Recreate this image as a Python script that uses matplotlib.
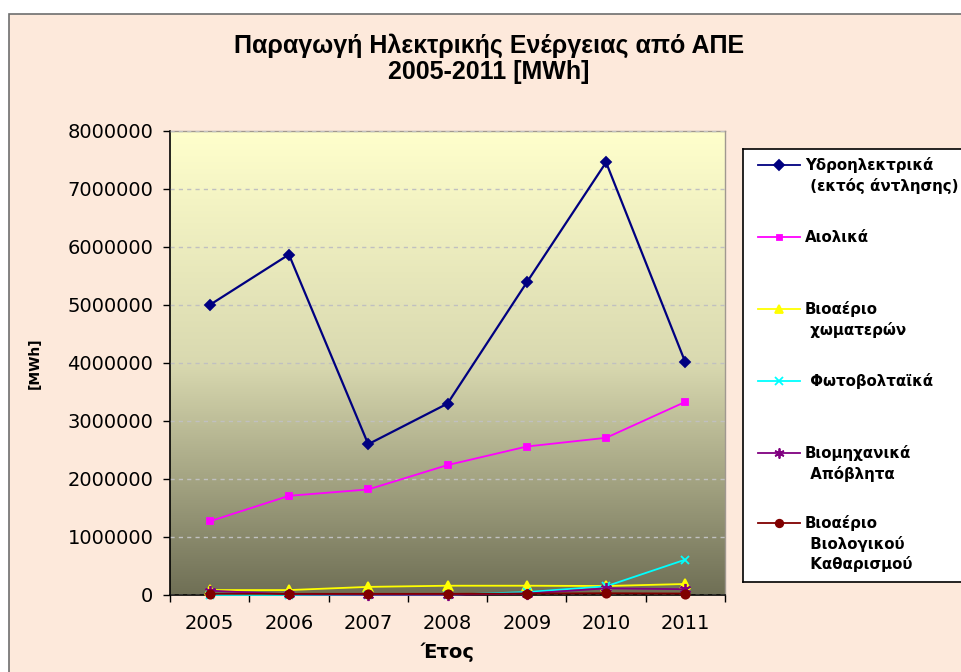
import numpy as np
import matplotlib
matplotlib.use("Agg")
import matplotlib.pyplot as plt
from matplotlib.patches import Rectangle
from matplotlib.colors import LinearSegmentedColormap
from matplotlib.ticker import FuncFormatter

years = ["2005", "2006", "2007", "2008", "2009", "2010", "2011"]

hydro = [5000000, 5870000, 2600000, 3300000, 5390000, 7460000, 4010000]
wind = [1270000, 1710000, 1820000, 2240000, 2560000, 2710000, 3330000]
landfill_gas = [85000, 85000, 140000, 160000, 160000, 155000, 190000]
pv = [1000, 1500, 2000, 5000, 50000, 150000, 610000]
industrial = [75000, 12000, 5000, 5000, 25000, 115000, 100000]
sewage_gas = [20000, 20000, 20000, 20000, 25000, 30000, 25000]

labels = [
    ["Υδροηλεκτρικά", " (εκτός άντλησης)"],
    ["Αιολικά"],
    ["Βιοαέριο", " χωματερών"],
    [" Φωτοβολταϊκά"],
    ["Βιομηχανικά", " Απόβλητα"],
    ["Βιοαέριο", " Βιολογικού", " Καθαρισμού"],
]

# colour, marker, marker size
styles = [
    ("#000080", "D", 5.5),
    ("#FF00FF", "s", 4),
    ("#FFFF00", "^", 7),
    ("#00FFFF", "x", 6),
    ("#800080", (6, 2, 0), 8),
    ("#800000", "o", 6),
]
series = [hydro, wind, landfill_gas, pv, industrial, sewage_gas]

W, H = 961, 672
fig = plt.figure(figsize=(W / 100, H / 100), dpi=100)
fig.patch.set_facecolor("white")

# outer chart area (cropped on right / bottom like the original)
fig.add_artist(Rectangle((9 / W, -0.1), 1.2, (H - 14) / H + 0.1,
                         transform=fig.transFigure, facecolor="#FDE9DB",
                         edgecolor="#6E6E6E", lw=1.2, zorder=-10))

ax = fig.add_axes([170 / W, (H - 595) / H, 555 / W, 464 / H])
ax.set_facecolor("none")

grad = LinearSegmentedColormap.from_list("g", ["#FFFFCC", "#D9D9B0", "#6F6F55"])
ax.imshow(np.linspace(0, 1, 256).reshape(-1, 1), cmap=grad, aspect="auto",
          extent=[0, 1, 0, 1], transform=ax.transAxes, zorder=0)

x = np.arange(len(years))
ax.set_xlim(-0.5, len(years) - 0.5)
ax.set_ylim(0, 8000000)
ax.set_yticks(np.arange(0, 8000001, 1000000))
ax.yaxis.set_major_formatter(FuncFormatter(lambda v, p: f"{int(v)}"))
ax.yaxis.grid(True, ls=(0, (3, 3)), color="#C0C0C0", lw=1, zorder=1)
ax.set_axisbelow(False)

for vals, (c, m, ms) in zip(series, styles):
    lw = 1.6 if c == "#000080" else 1.3
    ax.plot(x, vals, color=c, marker=m, ms=ms, lw=lw, mew=1.3,
            mec=c, mfc=c, zorder=3, clip_on=False)

ax.set_xticks(x)
ax.set_xticklabels(years)
ax.set_xticks(np.arange(-0.5, len(years)), minor=True)
ax.tick_params(axis="x", which="major", length=0, pad=14, labelsize=14)
ax.tick_params(axis="x", which="minor", length=5, direction="out", width=1)
ax.tick_params(axis="y", length=5, width=1, pad=7, labelsize=14)

for s in ["left", "bottom"]:
    ax.spines[s].set_color("black")
    ax.spines[s].set_linewidth(1.2)
for s in ["top", "right"]:
    ax.spines[s].set_color("#A09890")
    ax.spines[s].set_linewidth(1)

fig.text(448 / W, 1 - 652 / H, "Έτος", fontsize=14, fontweight="bold",
         ha="center", va="center")
fig.text(35 / W, 1 - 363 / H, "[MWh]", rotation=90, fontsize=10,
         fontweight="bold", ha="center", va="center")

fig.text(489 / W, 1 - 46 / H, "Παραγωγή Ηλεκτρικής Ενέργειας από ΑΠΕ",
         fontsize=18, fontweight="bold", ha="center", va="center",
         family=["Liberation Sans"])
fig.text(489 / W, 1 - 72 / H, "2005-2011 [MWh]",
         fontsize=18, fontweight="bold", ha="center", va="center",
         family=["Liberation Sans"])

# legend box drawn in pixel coordinates
lx0, ly0, ly1 = 743, 149, 582
lg = fig.add_axes([lx0 / W, (H - ly1) / H, 300 / W, (ly1 - ly0) / H])
lg.set_xlim(lx0, lx0 + 300)
lg.set_ylim(ly1, ly0)
lg.set_xticks([])
lg.set_yticks([])
lg.set_facecolor("white")
for s in lg.spines.values():
    s.set_color("black")
    s.set_linewidth(1.2)

entry_y = [165, 237, 309, 381, 453, 523]
for yy, lab, (c, m, ms) in zip(entry_y, labels, styles):
    lg.plot([758, 800], [yy, yy], color=c, lw=1.3)
    lg.plot([779], [yy], color=c, marker=m, ms=ms * 0.9, mew=1.3)
    for i, line in enumerate(lab):
        lg.text(805, yy + i * 20.5, line, fontsize=10.8, fontweight="bold",
                ha="left", va="center")

fig.savefig("out.png", dpi=100, facecolor=fig.get_facecolor())
